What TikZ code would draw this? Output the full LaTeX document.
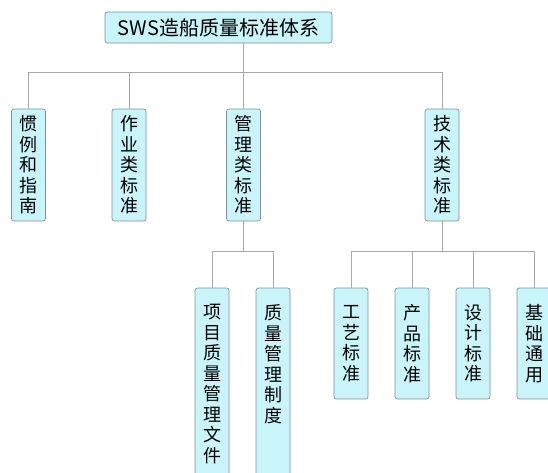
\documentclass[tikz,border=0pt]{standalone}
\usepackage{fontspec}
\setmainfont{Noto Sans CJK SC}
\definecolor{boxfill}{HTML}{C8F4FA}
\definecolor{boxline}{HTML}{7F9296}
\definecolor{conn}{HTML}{A8A8A8}
\begin{document}
\begin{tikzpicture}[x=1pt,y=-1pt,
  box/.style={draw=boxline,fill=boxfill,rounded corners=2.5pt,line width=0.7pt,inner sep=0pt,align=center},
  vbox/.style={box,minimum width=34pt,font=\fontsize{18}{20.5}\selectfont},
  link/.style={draw=conn,line width=0.8pt}]
\useasboundingbox (0,0) rectangle (548,472);
\clip (0,0) rectangle (548,472);
\node[box,minimum width=227pt,minimum height=31pt,font=\fontsize{20}{22}\selectfont] (root) at (218.5,27.5) {SWS造船质量标准体系};
\node[vbox,minimum height=112pt] (a) at (28.5,165) {惯\\例\\和\\指\\南};
\node[vbox,minimum height=112pt] (b) at (129,165) {作\\业\\类\\标\\准};
\node[vbox,minimum height=112pt] (c) at (243.5,165) {管\\理\\类\\标\\准};
\node[vbox,minimum height=112pt] (d) at (442,165) {技\\术\\类\\标\\准};
\node[vbox,minimum height=192pt] (e) at (212,384) {项\\目\\质\\量\\管\\理\\文\\件};
\node[vbox,minimum height=192pt] (f) at (273,384) {质\\量\\管\\理\\制\\度\\~\\~};
\node[vbox,minimum height=111pt] (g) at (351,343.5) {工\\艺\\标\\准};
\node[vbox,minimum height=111pt] (h) at (412,343.5) {产\\品\\标\\准};
\node[vbox,minimum height=111pt] (i) at (473,343.5) {设\\计\\标\\准};
\node[vbox,minimum height=111pt] (j) at (534,343.5) {基\\础\\通\\用};
\coordinate (busA) at (0,72.5);
\coordinate (busB) at (0,251.5);
\draw[link] (root.south -| c.north) -- (c.north);
\draw[link] (a.north) -- (a.north |- busA) -- (d.north |- busA) -- (d.north);
\draw[link] (b.north) -- (b.north |- busA);
\draw[link] (c.south) -- (c.south |- busB);
\draw[link] (e.north) -- (e.north |- busB) -- (f.north |- busB) -- (f.north);
\draw[link] (d.south) -- (d.south |- busB);
\draw[link] (g.north) -- (g.north |- busB) -- (j.north |- busB) -- (j.north);
\draw[link] (h.north) -- (h.north |- busB);
\draw[link] (i.north) -- (i.north |- busB);
\end{tikzpicture}
\end{document}
